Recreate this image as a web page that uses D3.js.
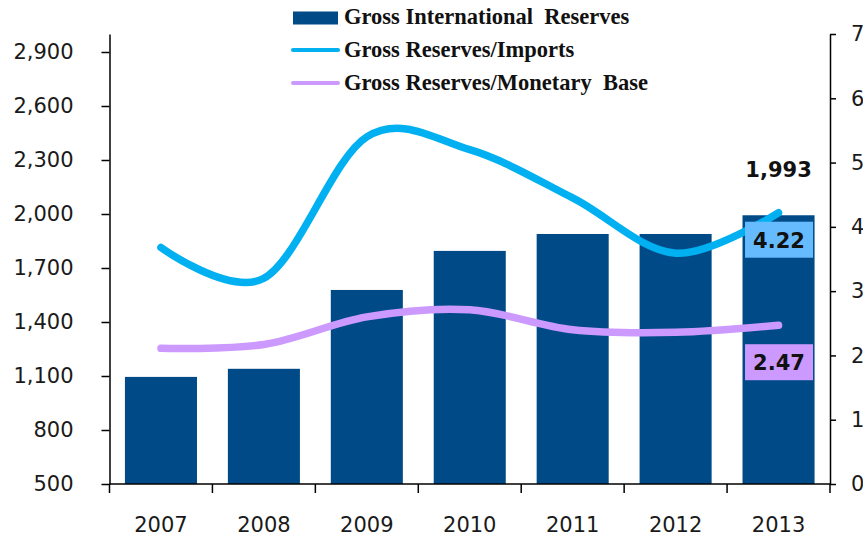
<!DOCTYPE html>
<html>
<head>
<meta charset="utf-8">
<script src="https://cdn.jsdelivr.net/npm/d3@7"></script>
<style>
  body { margin: 0; background: #fff; }
  svg { display: block; }
</style>
</head>
<body>
<svg id="chart"></svg>
<script>
// data
var years = ['2007', '2008', '2009', '2010', '2011', '2012', '2013'];
var grossReserves = [1095, 1140, 1578, 1795, 1889, 1889, 1993];   // left axis
var reservesImports = [3.68, 3.2, 5.4, 5.2, 4.45, 3.59, 4.22];     // right axis
var reservesMonetary = [2.11, 2.17, 2.6, 2.71, 2.4, 2.36, 2.47];  // right axis
var leftTicks = [500, 800, 1100, 1400, 1700, 2000, 2300, 2600, 2900];
var rightTicks = [0, 1, 2, 3, 4, 5, 6, 7];
var legendNames = ['Gross International  Reserves', 'Gross Reserves/Imports', 'Gross Reserves/Monetary  Base'];

var width = 863;
var height = 537;
var plot = { left: 109.5, right: 830, top: 34, bottom: 484 };

var barColor = '#004b87';
var cyan = '#00b0f0';
var purple = '#cc99ff';
var tickFont = '"DejaVu Sans", Verdana, sans-serif';

var svg = d3.select('#chart')
  .attr('width', width)
  .attr('height', height);

var x = d3.scaleBand()
  .domain(years)
  .range([plot.left, plot.right])
  .paddingInner(0.3)
  .paddingOuter(0.15);

var yLeft = d3.scaleLinear()
  .domain([500, 3000])
  .range([plot.bottom, plot.top]);

var yRight = d3.scaleLinear()
  .domain([0, 7])
  .range([plot.bottom, plot.top]);

// bars
svg.append('g')
  .selectAll('rect')
  .data(years)
  .enter()
  .append('rect')
    .attr('x', d => x(d))
    .attr('y', (d, i) => yLeft(grossReserves[i]))
    .attr('width', x.bandwidth())
    .attr('height', (d, i) => plot.bottom - yLeft(grossReserves[i]))
    .style('fill', barColor);

// smoothed lines (excel style)
var lineGen = d3.line()
  .x((d, i) => x(years[i]) + x.bandwidth() / 2)
  .y(d => yRight(d))
  .curve(d3.curveCardinal.tension(0));

svg.append('path')
  .datum(reservesMonetary)
  .attr('d', lineGen)
  .attr('fill', 'none')
  .attr('stroke', purple)
  .attr('stroke-width', 7.5)
  .attr('stroke-linecap', 'round');

svg.append('path')
  .datum(reservesImports)
  .attr('d', lineGen)
  .attr('fill', 'none')
  .attr('stroke', cyan)
  .attr('stroke-width', 7.5)
  .attr('stroke-linecap', 'round');

// left axis
var leftAxis = d3.axisLeft(yLeft)
  .tickValues(leftTicks)
  .tickFormat(d3.format(','))
  .tickSize(8)
  .tickSizeOuter(0)
  .tickPadding(28);

var gl = svg.append('g')
  .attr('transform', 'translate(' + plot.left + ',0)')
  .call(leftAxis);

// right axis
var rightAxis = d3.axisRight(yRight)
  .tickValues(rightTicks)
  .tickSize(6)
  .tickSizeOuter(0)
  .tickPadding(15);

var gr = svg.append('g')
  .attr('transform', 'translate(' + plot.right + ',0)')
  .call(rightAxis);

// bottom axis: labels at band centres, ticks between the bands
var bottomAxis = d3.axisBottom(x)
  .tickSize(0)
  .tickPadding(33);

var gb = svg.append('g')
  .attr('transform', 'translate(0,' + plot.bottom + ')')
  .call(bottomAxis);
gb.select('.domain').remove();

var gap = (x.step() - x.bandwidth()) / 2;
var bounds = years.map(d => x(d) - gap).concat([x(years[years.length - 1]) + x.bandwidth() + gap]);
gb.selectAll('.sep')
  .data(bounds)
  .enter()
  .append('line')
    .attr('class', 'sep')
    .attr('x1', d => d)
    .attr('x2', d => d)
    .attr('y1', 0)
    .attr('y2', 9);
gb.append('line')
  .attr('x1', plot.left)
  .attr('x2', plot.right);

[gl, gr, gb].forEach(function(g) {
  g.selectAll('path, line').attr('stroke', '#000').attr('stroke-width', 1.5);
  g.selectAll('text')
    .style('font-family', tickFont)
    .style('font-size', '21px')
    .style('fill', '#1a1a1a');
});

// value labels for 2013
var last = years.length - 1;
var cx = x(years[last]) + x.bandwidth() / 2;

svg.append('text')
  .attr('x', cx)
  .attr('y', yLeft(grossReserves[last]) - 38)
  .attr('text-anchor', 'middle')
  .style('font-family', tickFont)
  .style('font-weight', 'bold')
  .style('font-size', '21px')
  .style('fill', '#111')
  .text(d3.format(',')(grossReserves[last]));

var boxes = [
  { v: reservesImports[last], fill: '#66bbff', y: yRight(reservesImports[last]) + 27 },
  { v: reservesMonetary[last], fill: purple, y: yRight(reservesMonetary[last]) + 37 }
];

boxes.forEach(function(b) {
  svg.append('rect')
    .attr('x', cx - 33.5)
    .attr('y', b.y - 18)
    .attr('width', 68)
    .attr('height', 36)
    .style('fill', b.fill);
  svg.append('text')
    .attr('x', cx + 0.5)
    .attr('y', b.y + 8)
    .attr('text-anchor', 'middle')
    .style('font-family', tickFont)
    .style('font-weight', 'bold')
    .style('font-size', '21px')
    .style('fill', '#111')
    .text(d3.format('.2f')(b.v));
});

// legend
var legend = svg.append('g')
  .attr('transform', 'translate(292,0)');

legend.append('rect')
  .attr('x', 1)
  .attr('y', 11.5)
  .attr('width', 45)
  .attr('height', 13)
  .style('fill', barColor);

legend.append('line')
  .attr('x1', 1).attr('x2', 46)
  .attr('y1', 50).attr('y2', 50)
  .attr('stroke', cyan).attr('stroke-width', 4).attr('stroke-linecap', 'round');

legend.append('line')
  .attr('x1', 1).attr('x2', 46)
  .attr('y1', 83).attr('y2', 83)
  .attr('stroke', purple).attr('stroke-width', 4).attr('stroke-linecap', 'round');

legend.selectAll('text')
  .data(legendNames)
  .enter()
  .append('text')
    .attr('x', 52)
    .attr('y', (d, i) => 24 + i * 33)
    .attr('xml:space', 'preserve')
    .style('white-space', 'pre')
    .style('font-family', '"Liberation Serif", "Times New Roman", serif')
    .style('font-weight', 'bold')
    .style('font-size', '22.5px')
    .style('fill', '#111')
    .text(d => d);
</script>
</body>
</html>
